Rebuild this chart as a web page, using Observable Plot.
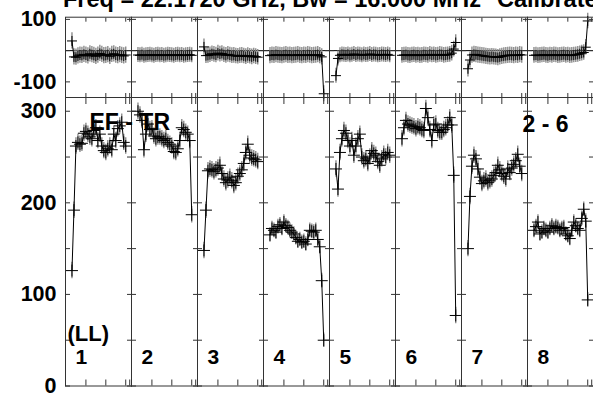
<!DOCTYPE html>
<html><head><meta charset="utf-8">
<script src="https://cdn.jsdelivr.net/npm/d3@7"></script>
<script src="https://cdn.jsdelivr.net/npm/@observablehq/plot@0.6"></script>
<style>
html,body{margin:0;padding:0;background:#fff;overflow:hidden;}
#wrap{position:relative;width:593px;height:394px;overflow:hidden;background:#fff;font-family:"Liberation Sans",Arial,sans-serif;}
#wrap svg{position:absolute;left:0;}
.title{position:absolute;font-weight:bold;font-size:23.5px;line-height:24px;white-space:nowrap;color:#000;}
</style></head><body>
<div id="wrap">
 <div class="title" style="left:63px;top:-13px">Freq = 22.1720 GHz, Bw = 16.000 MHz</div>
 <div class="title" style="left:497px;top:-13px">Calibrated</div>
</div>
<script>
// ---- data ----
const ifs = [1, 2, 3, 4, 5, 6, 7, 8];
const channels = [3,4,5,6,7,8,9,10,11,12,13,14,15,16,17,18,19,20,21,22,23,24,25,26,27,28,29,30];

const ampIF1 = [126,192,262,266,264,265,276,278,275,272,270,279,282,268,275,262,257,255,259,262,258,275,268,281,284,288,266,262];
const ampIF2 = [300,296,290,258,275,286,280,281,273,270,272,272,270,268,270,266,264,262,256,255,259,268,282,280,277,275,268,187];
const ampIF3 = [148,192,235,237,236,234,236,238,241,232,226,222,225,228,224,219,222,229,232,236,243,255,264,252,249,248,247,245];
const ampIF4 = [165,172,170,168,174,176,172,179,175,173,170,168,166,162,158,160,157,158,155,160,170,169,168,170,160,152,115,50];
const ampIF5 = [237,215,255,270,279,276,268,262,268,252,262,270,275,250,246,248,243,250,257,254,252,245,241,248,253,250,255,252];
const ampIF6 = [270,282,290,286,285,284,283,281,283,282,280,279,303,293,280,268,285,286,279,277,277,280,282,285,293,285,230,77];
const ampIF7 = [150,207,240,252,248,237,228,221,224,226,222,224,226,230,233,241,236,232,229,226,237,233,238,242,246,253,240,232];
const ampIF8 = [170,174,179,166,168,172,170,168,172,175,172,174,173,170,172,173,166,164,161,170,179,175,172,170,183,193,180,94];

const phaseIF1 = [31,-20,-21,-17,-14,-15,-12,-14,-17,-10,-13,-15,-18,-14,-9,-12,-16,-15,-13,-18,-12,-10,-14,-16,-13,-15,-17,-14];
const phaseIF2 = [-14,-15,-13,-16,-15,-14,-13,-15,-16,-14,-13,-15,-14,-16,-15,-13,-14,-15,-16,-14,-13,-15,-14,-16,-15,-14,-13,-15];
const phaseIF3 = [12,-16,-15,-13,-10,-12,-14,-8,-11,-9,-13,-15,-12,-14,-16,-15,-17,-18,-16,-15,-17,-19,-16,-18,-20,-17,-19,-21];
const phaseIF4 = [-16,-14,-15,-13,-14,-15,-16,-14,-13,-15,-14,-16,-15,-14,-13,-15,-16,-14,-15,-13,-14,-16,-15,-14,-13,-16,-20,-138];
const phaseIF5 = [-80,-25,-15,-12,-13,-14,-12,-15,-13,-11,-14,-12,-13,-15,-12,-14,-13,-11,-14,-12,-13,-15,-14,-12,-13,-14,-12,-15];
const phaseIF6 = [-15,-14,-13,-15,-16,-14,-13,-15,-14,-16,-15,-13,-14,-15,-12,-14,-13,-15,-14,-12,-13,-15,-14,-13,-12,-8,5,26];
const phaseIF7 = [-58,-30,-14,-12,-13,-14,-15,-16,-17,-18,-19,-20,-19,-20,-21,-22,-20,-18,-17,-16,-15,-14,-15,-16,-14,-15,-13,-14];
const phaseIF8 = [-15,-14,-16,-15,-14,-13,-15,-16,-14,-15,-13,-14,-16,-15,-14,-13,-15,-14,-16,-15,-14,-13,-12,-10,-8,-6,11,95];

const ampErr = [9, 9, 9, 8, 9, 9, 9, 8];
const phaseErr = [26, 24, 25, 26, 24, 25, 26, 25];

const xTicks = [10, 20, 30, 32];
const ampTicks = [0, 50, 100, 150, 200, 250, 300];
const ampLabels = [0, 100, 200, 300];
const phaseTicks = [-100, 0, 100];
const phaseLabels = [-100, 100];
const panelLabels = ["1", "2", "3", "4", "5", "6", "7", "8"];
const polLabel = ["(LL)"];
const baselineLabel = ["EF - TR"];
const pageLabel = ["2 - 6"];

// ---- build ----
const ampSeries = [ampIF1, ampIF2, ampIF3, ampIF4, ampIF5, ampIF6, ampIF7, ampIF8];
const phaseSeries = [phaseIF1, phaseIF2, phaseIF3, phaseIF4, phaseIF5, phaseIF6, phaseIF7, phaseIF8];
const ampRows = ifs.flatMap((f, i) => channels.map((c, j) => ({IF: f, ch: c, v: ampSeries[i][j], e: ampErr[i]})));
const phaseRows = ifs.flatMap((f, i) => channels.map((c, j) => ({IF: f, ch: c, v: phaseSeries[i][j], e: phaseErr[i]})));

const cross = {draw(ctx, size) {
  const r = Math.sqrt(size / Math.PI);
  ctx.moveTo(-r, 0); ctx.lineTo(r, 0); ctx.moveTo(0, -r); ctx.lineTo(0, r);
}};

const W = 595, ML = 62;
const FONT = "Liberation Sans, Arial, sans-serif";
const svgStyle = "max-width:none;background:transparent;overflow:visible;font-family:" + FONT + ";";
const frameStroke = "#333";

function dataMarks(rows, r) {
  return [
    Plot.ruleX(rows, {fx: "IF", x: "ch", y1: d => d.v - d.e, y2: d => d.v + d.e, stroke: "#8c8c8c", strokeWidth: 1.4}),
    Plot.line(rows, {fx: "IF", x: "ch", y: "v", stroke: "#000", strokeWidth: 1}),
    Plot.dot(rows, {fx: "IF", x: "ch", y: "v", symbol: cross, r, stroke: "#000", fill: "none", strokeWidth: 1})
  ];
}
function tickMarks(yTicks, xt) {
  return [
    Plot.axisY({anchor: "left", ticks: yTicks, tickSize: 5, insetLeft: 5, fill: "none", stroke: frameStroke, facetAnchor: null, label: null}),
    Plot.axisY({anchor: "right", ticks: yTicks, tickSize: 5, insetRight: 5, fill: "none", stroke: frameStroke, facetAnchor: null, label: null}),
    Plot.axisX({anchor: "top", ticks: xTicks, tickSize: xt, insetTop: xt, fill: "none", stroke: frameStroke, facetAnchor: null, label: null}),
    Plot.axisX({anchor: "bottom", ticks: xTicks, tickSize: xt, insetBottom: xt, fill: "none", stroke: frameStroke, facetAnchor: null, label: null})
  ];
}

// phase plot
const phaseTop = 16.7, phaseH = 80.3;
const phasePlot = Plot.plot({
  width: W, height: phaseTop + phaseH + 5,
  marginLeft: ML, marginRight: 0, marginTop: phaseTop, marginBottom: 5,
  style: svgStyle,
  fx: {domain: ifs, padding: 0, axis: null},
  x: {domain: [-0.25, 32.9]},
  y: {domain: [-150, 107]},
  marks: [
    Plot.ruleY([0], {stroke: "#000", strokeWidth: 1}),
    ...dataMarks(phaseRows, 5),
    Plot.frame({stroke: frameStroke}),
    ...tickMarks(phaseTicks, 4),
    Plot.axisY({anchor: "left", ticks: phaseLabels, tickSize: 0, tickPadding: 9, tickFormat: d => String(d), fontSize: 21.5, fontWeight: "bold", label: null})
  ]
});
phasePlot.style.top = "0px";

// amplitude plot
const ampSvgTop = 92, ampMT = 5, ampH = 288.5;
const ampPlot = Plot.plot({
  width: W, height: ampMT + ampH + 8.5,
  marginLeft: ML, marginRight: 0, marginTop: ampMT, marginBottom: 8.5,
  style: svgStyle,
  fx: {domain: ifs, padding: 0, axis: null},
  x: {domain: [-0.25, 32.9]},
  y: {domain: [0, 315]},
  marks: [
    ...dataMarks(ampRows, 6),
    Plot.frame({stroke: frameStroke}),
    ...tickMarks(ampTicks, 6),
    Plot.axisY({anchor: "left", ticks: ampLabels, tickSize: 0, tickPadding: 9, tickFormat: d => String(d), fontSize: 21.5, fontWeight: "bold", label: null}),
    Plot.text(panelLabels, {fx: (d, i) => ifs[i], text: d => d, frameAnchor: "bottom-left", lineAnchor: "bottom", textAnchor: "start", dx: 10, dy: -22.5, fontSize: 21, fontWeight: "bold"}),
    Plot.text(polLabel, {fx: () => ifs[0], text: d => d, frameAnchor: "bottom-left", lineAnchor: "bottom", textAnchor: "start", dx: 2, dy: -45, fontSize: 22, fontWeight: "bold"}),
    Plot.text(baselineLabel, {fx: () => ifs[0], text: d => d, frameAnchor: "top-left", lineAnchor: "top", textAnchor: "start", dx: 24, dy: 16, fontSize: 23, fontWeight: "bold"}),
    Plot.text(pageLabel, {fx: () => ifs[7], text: d => d, frameAnchor: "top-left", lineAnchor: "top", textAnchor: "start", dx: -5, dy: 18, fontSize: 23, fontWeight: "bold"})
  ]
});
ampPlot.style.top = ampSvgTop + "px";

const wrap = document.getElementById("wrap");
wrap.appendChild(phasePlot);
wrap.appendChild(ampPlot);
</script>
</body></html>
